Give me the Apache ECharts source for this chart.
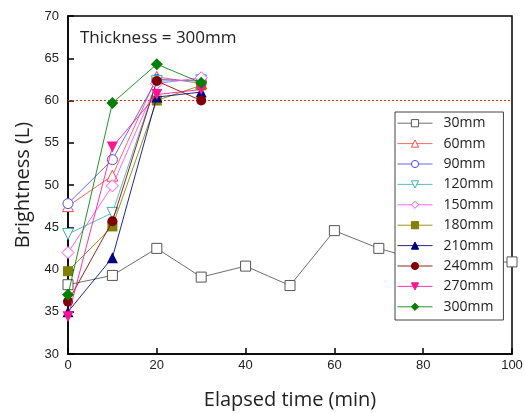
<!DOCTYPE html>
<html>
<head>
<meta charset="utf-8">
<script src="https://cdn.jsdelivr.net/npm/echarts@6/dist/echarts.min.js"></script>
<style>
  html, body { margin: 0; padding: 0; background: #fff; }
  #chart { width: 525px; height: 413px; }
</style>
</head>
<body>
<div id="chart"></div>
<script>
// elapsed time (min)
const timeLong = [0, 10, 20, 30, 40, 50, 60, 70, 80, 90, 100];
const timeShort = [0, 10, 20, 30];

// brightness (L) per thickness
const b30 = [38.2, 39.3, 42.5, 39.1, 40.4, 38.1, 44.6, 42.5, 41.0, 40.8, 40.9];
const b60 = [47.5, 51.1, 62.8, 62.0];
const b90 = [47.8, 53.0, 62.5, 62.3];
const b120 = [44.2, 46.7, 62.3, 62.4];
const b150 = [42.0, 49.9, 62.0, 62.7];
const b180 = [39.8, 45.1, 60.0, 61.8];
const b210 = [35.0, 41.4, 60.4, 61.0];
const b240 = [36.2, 45.7, 62.3, 60.0];
const b270 = [34.4, 54.5, 60.7, 61.3];
const b300 = [37.0, 59.7, 64.3, 62.1];

const limitLine = 60;

const yTicks = [30, 35, 40, 45, 50, 55, 60, 65, 70];
const xTicks = [0, 20, 40, 60, 80, 100];

const pair = (xs, ys) => ys.map((v, i) => [xs[i], v]);

// name, data, colour, symbol, hollow, rotate
const seriesDefs = [
  ['30mm', pair(timeLong, b30), '#555555', 'rect', true, 0],
  ['60mm', pair(timeShort, b60), '#ff4a4a', 'triangle', true, 0],
  ['90mm', pair(timeShort, b90), '#4a4aff', 'circle', true, 0],
  ['120mm', pair(timeShort, b120), '#3fb0b0', 'triangle', true, 180],
  ['150mm', pair(timeShort, b150), '#ff4aff', 'diamond', true, 0],
  ['180mm', pair(timeShort, b180), '#808000', 'rect', false, 0],
  ['210mm', pair(timeShort, b210), '#000080', 'triangle', false, 0],
  ['240mm', pair(timeShort, b240), '#800000', 'circle', false, 0],
  ['270mm', pair(timeShort, b270), '#ff1493', 'triangle', false, 180],
  ['300mm', pair(timeShort, b300), '#008000', 'diamond', false, 0]
];

const series = seriesDefs.map(([name, data, c, sym, hollow, rot], idx) => ({
  name: name,
  type: 'line',
  data: data,
  symbol: sym,
  symbolRotate: rot,
  symbolSize: sym === 'diamond' ? 12 : (sym === 'triangle' ? 11 : 10),
  color: c,
  lineStyle: { color: c, width: 1, opacity: 0.85 },
  itemStyle: hollow
    ? { color: '#fff', borderColor: c, borderWidth: 1 }
    : { color: c, borderColor: c, borderWidth: 0 },
  clip: false,
  z: 3 + idx
}));

// red dashed reference line at L = 60
series.unshift({
  name: 'limit',
  type: 'line',
  data: [[xTicks[0], limitLine], [xTicks[xTicks.length - 1], limitLine]],
  symbol: 'none',
  silent: true,
  color: '#ff2020',
  lineStyle: { color: '#ff2020', type: [2, 2], width: 1, opacity: 1 },
  z: 2
});

const chart = echarts.init(document.getElementById('chart'));
chart.setOption({
  animation: false,
  backgroundColor: '#fff',
  grid: {
    left: 68, right: 13, top: 16, bottom: 59,
    outerBoundsMode: 'none',
    show: true, borderColor: '#000', borderWidth: 1.5
  },
  graphic: [{
    type: 'text',
    left: 80, top: 30,
    style: { text: 'Thickness = 300mm', fontSize: 17, fontFamily: 'Open Sans', fill: '#222' }
  }],
  legend: {
    orient: 'vertical',
    left: 395, top: 112,
    backgroundColor: '#fff',
    borderColor: '#444',
    borderWidth: 1,
    borderRadius: 0,
    padding: [1, 10, 3, 2],
    itemWidth: 35,
    itemHeight: 9,
    itemGap: 0,
    lineStyle: { width: 1 },
    itemStyle: { borderWidth: 1 },
    textStyle: { fontSize: 14, fontFamily: 'Open Sans', color: '#222', lineHeight: 20.4, padding: [0, 0, 0, 6] },
    data: seriesDefs.map(d => d[0])
  },
  xAxis: {
    type: 'value',
    min: xTicks[0], max: xTicks[xTicks.length - 1], interval: 20,
    name: 'Elapsed time (min)',
    nameLocation: 'middle',
    nameGap: 36,
    nameTextStyle: { fontSize: 20, fontFamily: 'Open Sans', color: '#222' },
    axisLine: { lineStyle: { color: '#000', width: 1.5 } },
    axisTick: { inside: true, length: 6, lineStyle: { color: '#000', width: 1.5 } },
    axisLabel: { fontSize: 13, fontFamily: 'Liberation Sans', color: '#222', margin: 5 },
    splitLine: { show: false }
  },
  yAxis: {
    type: 'value',
    min: yTicks[0], max: yTicks[yTicks.length - 1], interval: 5,
    name: 'Brightness (L)',
    nameLocation: 'middle',
    nameGap: 34,
    nameTextStyle: { fontSize: 20, fontFamily: 'Open Sans', color: '#222' },
    axisLine: { lineStyle: { color: '#000', width: 1.5 } },
    axisTick: { inside: true, length: 6, lineStyle: { color: '#000', width: 1.5 } },
    axisLabel: { fontSize: 13, fontFamily: 'Liberation Sans', color: '#222', margin: 9 },
    splitLine: { show: false }
  },
  series: series
});
</script>
</body>
</html>
